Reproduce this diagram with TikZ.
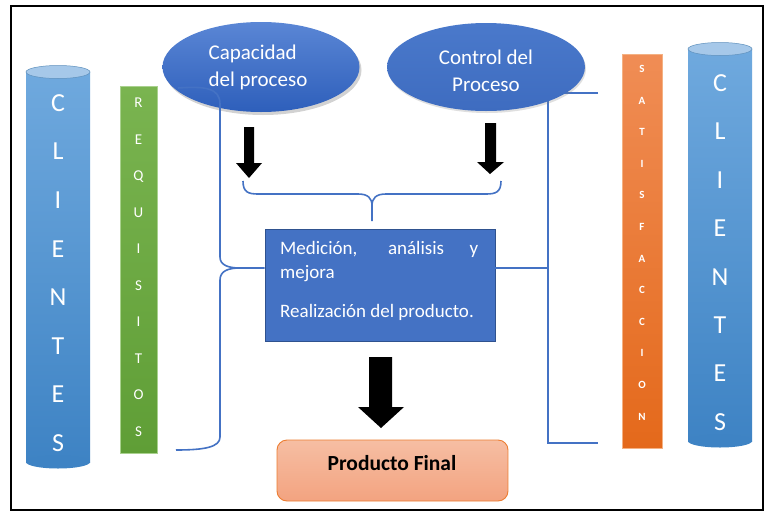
\documentclass[tikz,border=0pt]{standalone}
\usepackage{fontspec}
\setmainfont{Carlito}
\usetikzlibrary{shapes.geometric,shadows}
\definecolor{bl}{HTML}{4472C4}
\definecolor{bldark}{HTML}{2F528F}
\definecolor{capA}{HTML}{5A86D5}
\definecolor{capB}{HTML}{2E5FBB}
\definecolor{conA}{HTML}{4A79CB}
\definecolor{conB}{HTML}{3E6CC0}
\definecolor{cylA}{HTML}{6FA9DE}
\definecolor{cylB}{HTML}{3E83C4}
\definecolor{cylC}{HTML}{A6C8E9}
\definecolor{grA}{HTML}{7AB450}
\definecolor{grB}{HTML}{5F9E36}
\definecolor{grE}{HTML}{A9D18E}
\definecolor{orA}{HTML}{F08D55}
\definecolor{orB}{HTML}{E4691B}
\definecolor{orE}{HTML}{F4B183}
\definecolor{pfA}{HTML}{F6BEA3}
\definecolor{pfB}{HTML}{F3A380}
\definecolor{pfE}{HTML}{ED7D31}
\tikzset{
  brk/.style={draw=bl, line width=1.6pt},
  blockarr/.style={fill=black},
  cylletter/.style={text=white, anchor=base, font=\fontsize{26}{26}\selectfont, inner sep=0pt},
  reqletter/.style={text=white, anchor=base, font=\fontsize{15}{15}\selectfont, inner sep=0pt},
  satletter/.style={text=white, anchor=base, font=\bfseries\fontsize{11}{11}\selectfont, inner sep=0pt},
  boxtext/.style={text=white, anchor=base west, font=\fontsize{19}{24}\selectfont, inner sep=0pt},
  elltext/.style={text=white, font=\fontsize{21}{27}\selectfont, inner sep=0pt},
}
\newcommand\drawcyl[4]{%
  \fill[top color=cylA, bottom color=cylB] (#1,#3) rectangle (#2,#4);
  \fill[cylB] ({(#1+#2)/2},#4) ellipse[x radius={(#2-#1)/2*1pt}, y radius=6.5pt];
  \fill[cylC] ({(#1+#2)/2},#3) ellipse[x radius={(#2-#1)/2*1pt}, y radius=6.5pt];
  \draw[cylA!85!black, line width=0.5pt] ({(#1+#2)/2},#3) ellipse[x radius={(#2-#1)/2*1pt}, y radius=6.5pt];
}
\begin{document}
\begin{tikzpicture}[x=1pt,y=-1pt]
\useasboundingbox (0,0) rectangle (764,512);
\fill[white] (0,0) rectangle (764,512);
\draw[line width=1.5pt] (11,6) rectangle (763,510);

% left cylinder
\drawcyl{26}{90}{72}{462}
\foreach \l [count=\i from 0] in {C,L,I,E,N,T,E,S}
  \node[cylletter] (lc\i) at (58,{103+48.57*\i+8.3}) {\l};

% right cylinder
\drawcyl{688}{752}{49}{441}
\foreach \l [count=\i from 0] in {C,L,I,E,N,T,E,S}
  \node[cylletter] (rc\i) at (720,{83+48.43*\i+8.3}) {\l};

% requisitos
\fill[top color=grA, bottom color=grB] (120,86) rectangle (157,453);
\draw[grE, line width=0.8pt] (120,86) rectangle (157,453);
\foreach \l [count=\i from 0] in {R,E,Q,U,I,S,I,T,O,S}
  \node[reqletter] (rq\i) at (138.5,{103+36.5*\i+4.9}) {\l};

% satisfaccion
\fill[top color=orA, bottom color=orB] (622,54) rectangle (662,448);
\draw[orE, line width=0.8pt] (622,54) rectangle (662,448);
\foreach \l [count=\i from 0] in {S,A,T,I,S,F,A,C,C,I,O,N}
  \node[satletter] (st\i) at (642,{69+31.6*\i+3.5}) {\l};

% middle box
\node[rectangle, fill=bl, draw=bldark, line width=0.6pt, minimum width=230pt, minimum height=112pt, inner sep=0pt] (box) at (380,285) {};
\node[boxtext] (t1) at (280,254) {\makebox[198pt][s]{Medición, análisis y}};
\node[boxtext] (t2) at (280,278) {mejora};
\node[boxtext] (t3) at (280,317) {Realización del producto.};

% right bracket (behind ellipse)
\draw[brk] (598,93) -- (548,93) -- (548,443) -- (598,443);
\draw[brk] ([yshift=17pt]box.east) -- (548,268);

% ellipses
\node[ellipse, minimum width=197pt, minimum height=90pt, top color=capA, bottom color=capB, draw=none,
      drop shadow={opacity=0.35, shadow xshift=2pt, shadow yshift=-3pt}] (cap) at (261,67) {};
\node[elltext, align=left] (capt) at (258,67) {Capacidad\\del proceso};
\node[ellipse, minimum width=198pt, minimum height=88pt, top color=conA, bottom color=conB, draw=none,
      drop shadow={opacity=0.25, shadow xshift=1pt, shadow yshift=-2pt}] (con) at (486,67) {};
\node[elltext, align=center] (cont) at (486,70.5) {Control del\\Proceso};

% left brace (over ellipse)
\draw[brk] (178,88) .. controls (205,86) and (220,88) .. (220,104) -- (220,257)
  .. controls (220,265) and (228,268) .. (240,268) -- ([yshift=17pt]box.west);
\draw[brk] (240,268) .. controls (228,268) and (220,271) .. (220,280) -- (220,437)
  .. controls (220,447) and (205,450) .. (176,450);

% top brace
\draw[brk] (243,181) .. controls (243,192) and (248,194) .. (258,194) -- (358,194)
  .. controls (368,194) and (372,198) .. (372,206) -- (372,221);
\draw[brk] (501,181) .. controls (501,192) and (496,194) .. (486,194) -- (386,194)
  .. controls (376,194) and (372,198) .. (372,206);

% block arrows
\fill[blockarr] (244,127) -- (254,127) -- (254,163) -- (262,163) -- (249,178) -- (236,163) -- (244,163) -- cycle;
\fill[blockarr] (485,123) -- (496,123) -- (496,162) -- (504,162) -- (490,174) -- (477,162) -- (485,162) -- cycle;
\fill[blockarr] (369,357) -- (392,357) -- (392,407) -- (404,407) -- (381,428) -- (358,407) -- (369,407) -- cycle;

% producto final
\node[rectangle, rounded corners=10pt, top color=pfA, bottom color=pfB, draw=pfE, line width=0.9pt,
      minimum width=231pt, minimum height=61pt] (pf) at (392.5,470.5) {};
\node[anchor=base, font=\bfseries\fontsize{21.5}{24}\selectfont, inner sep=0pt] (pft) at (392,470) {Producto Final};
\end{tikzpicture}
\end{document}
